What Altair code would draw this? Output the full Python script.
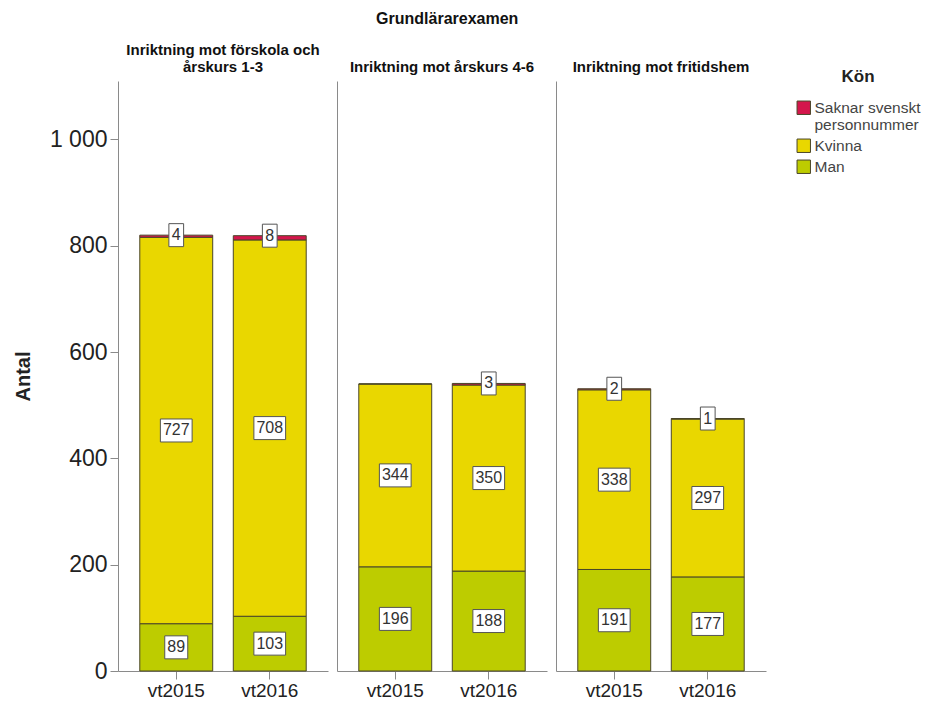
import altair as alt
import pandas as pd

programs = ["Inriktning mot förskola och årskurs 1-3", "Inriktning mot årskurs 4-6", "Inriktning mot fritidshem"]
program_titles = [["Inriktning mot förskola och", "årskurs 1-3"], "Inriktning mot årskurs 4-6", "Inriktning mot fritidshem"]
terms = ["vt2015", "vt2016"]
genders = ["Saknar svenskt personnummer", "Kvinna", "Man"]
colors = ["#d4164c", "#e9d700", "#bdcc00"]
man = [89, 103, 196, 188, 191, 177]
kvinna = [727, 708, 344, 350, 338, 297]
saknar = [4, 8, 0, 3, 2, 1]

rows = []
for i, prog in enumerate(programs):
    for j, term in enumerate(terms):
        k = i * 2 + j
        for g, vals, o in [("Man", man, 0), ("Kvinna", kvinna, 1), ("Saknar svenskt personnummer", saknar, 2)]:
            rows.append({"Program": prog, "Termin": term, "Kön": g, "Antal": vals[k], "ordning": o})
df = pd.DataFrame(rows)

FONT = "Liberation Sans"
yscale = alt.Scale(domain=[0, 1110], nice=False)
xscale = alt.Scale(domain=terms, paddingInner=0.22, paddingOuter=0.233)
shape_expr = ("length(toString(datum.Antal)) == 1 ? 'M-0.64,-1H0.64V1H-0.64Z' : "
              "(length(toString(datum.Antal)) == 2 ? 'M-1.0,-1H1.0V1H-1.0Z' : 'M-1.38,-1H1.38V1H-1.38Z')")


def panel(i):
    if i == 0:
        yaxis = alt.Axis(title="Antal", values=[0, 200, 400, 600, 800, 1000],
                         labelExpr="replace(format(datum.value, ','), ',', ' ')",
                         grid=False, tickSize=8, labelPadding=3, labelFontSize=23,
                         titleFontSize=20, titleFontWeight="bold", titlePadding=16)
    else:
        yaxis = alt.Axis(title=None, labels=False, ticks=False, grid=False, domain=True)
    xaxis = alt.Axis(title=None, labelAngle=0, tickSize=8, labelFontSize=19, labelPadding=2)
    base = alt.Chart(df).transform_filter(alt.datum.Program == programs[i]).transform_stack(
        stack="Antal", groupby=["Program", "Termin"], as_=["y0", "y1"],
        sort=[alt.SortField(field="ordning", order="ascending")])
    x = alt.X("Termin:N", scale=xscale, axis=xaxis)
    bars = base.mark_bar(stroke="#4a4628", strokeWidth=1).encode(
        x=x,
        y=alt.Y("y0:Q", scale=yscale, axis=yaxis),
        y2="y1:Q",
        color=alt.Color("Kön:N", scale=alt.Scale(domain=genders, range=colors),
                        legend=alt.Legend(title="Kön", orient="none", legendX=678, legendY=-12,
                                          labelExpr=(
                            "datum.label == 'Saknar svenskt personnummer' ? "
                            "['Saknar svenskt', 'personnummer'] : datum.label"))),
    )
    lab = base.transform_filter(alt.datum.Antal > 0).transform_calculate(
        ly="datum.ordning == 2 ? datum.y1 : (datum.y0 + datum.y1) / 2",
        box=shape_expr,
    )
    boxes = lab.mark_point(filled=True, fill="white", stroke="#555555", strokeWidth=1,
                           size=529, opacity=1).encode(
        x=x,
        y=alt.Y("ly:Q", scale=yscale, axis=yaxis),
        shape=alt.Shape("box:N", scale=None, legend=None),
    )
    texts = lab.mark_text(fontSize=16, font=FONT, color="#333333").encode(
        x=x,
        y=alt.Y("ly:Q", scale=yscale, axis=yaxis),
        text="Antal:Q",
    )
    return alt.layer(bars, boxes, texts).properties(
        width=210, height=590,
        title=alt.TitleParams(program_titles[i], fontSize=15, fontWeight="bold", font=FONT,
                              color="#111111", anchor="middle", offset=6, lineHeight=17),
    )


chart = alt.hconcat(panel(0), panel(1), panel(2), spacing=9).properties(
    title=alt.TitleParams("Grundlärarexamen", fontSize=16, fontWeight="bold", font=FONT,
                          color="#111111", anchor="middle", offset=16, dx=-20),
    padding={"left": 5, "top": 3, "right": 0, "bottom": 0},
).configure(font=FONT).configure_view(stroke=None).configure_axis(
    domainColor="#8a8a8a", tickColor="#8a8a8a", labelColor="#222222", titleColor="#222222",
    labelFont=FONT, titleFont=FONT,
).configure_legend(
    titleFontSize=17, titleFontWeight="bold", titleFont=FONT,
    titleColor="#222222", labelFont=FONT, labelFontSize=15.5, labelColor="#444444",
    symbolType="square", symbolSize=180, symbolStrokeColor="#4a4628", symbolStrokeWidth=1,
    symbolOpacity=1, titleAnchor="middle", titlePadding=14, rowPadding=3, labelOffset=3,
)

chart.save("out.html", embed_options={"renderer": "svg", "actions": False})
